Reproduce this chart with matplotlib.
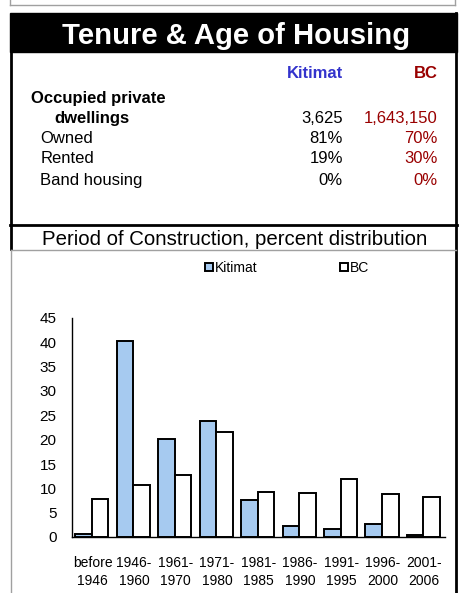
import matplotlib
matplotlib.use("Agg")
from matplotlib import pyplot as plt
from matplotlib.patches import Rectangle
from matplotlib.lines import Line2D

periods = ["before\n1946", "1946-\n1960", "1961-\n1970", "1971-\n1980", "1981-\n1985",
           "1986-\n1990", "1991-\n1995", "1996-\n2000", "2001-\n2006"]
kitimat = [0.6, 40.2, 20.2, 23.9, 7.7, 2.2, 1.6, 2.6, 0.35]
bc = [7.9, 10.7, 12.8, 21.6, 9.2, 9.1, 11.9, 8.9, 8.3]

row_labels = ["Owned", "Rented", "Band housing"]
kitimat_rows = ["81%", "19%", "0%"]
bc_rows = ["70%", "30%", "0%"]
kitimat_total = "3,625"
bc_total = "1,643,150"

W, H = 460, 593
BLUE = "#3333cc"
RED = "#990000"
BARBLUE = "#a6caf0"

plt.rcParams["font.family"] = ["Liberation Sans", "DejaVu Sans"]
fig = plt.figure(figsize=(W / 100, H / 100), dpi=100)


def fx(px):
    return px / W


def fy(py):
    return 1 - py / H


def hline(y, x0, x1, color, lw):
    fig.add_artist(Line2D([fx(x0), fx(x1)], [fy(y), fy(y)], color=color, lw=lw))


def vline(x, y0, y1, color, lw):
    fig.add_artist(Line2D([fx(x), fx(x)], [fy(y0), fy(y1)], color=color, lw=lw))


# frames
vline(10.5, 0, 4.5, "#a0a0a0", 1)
vline(455, 0, 4.5, "#a0a0a0", 1)
hline(4.5, 10, 455, "#a0a0a0", 1)
fig.add_artist(Rectangle((fx(10), fy(52)), fx(457) - fx(10), fy(13) - fy(52),
                         color="black", transform=fig.transFigure))
vline(11, 52, 249, "black", 2)
vline(456.5, 13, 593, "black", 2)
hline(224.5, 10, 457, "black", 2)
hline(249.5, 11, 456, "#a0a0a0", 1)
vline(11, 249.5, 593, "#a0a0a0", 1)

# table
fig.text(fx(236), fy(43.5), "Tenure & Age of Housing", color="white", fontsize=21.1,
         fontweight="bold", ha="center", va="baseline")
fig.text(fx(343), fy(77.5), "Kitimat", color=BLUE, fontsize=12, fontweight="bold",
         ha="right", va="baseline")
fig.text(fx(438), fy(77.5), "BC", color=RED, fontsize=12, fontweight="bold",
         ha="right", va="baseline")
fig.text(fx(31), fy(103.3), "Occupied private", fontsize=12, fontweight="bold", va="baseline")
fig.text(fx(54), fy(122.7), "dwellings", fontsize=12, fontweight="bold", va="baseline")
fig.text(fx(343), fy(122.7), kitimat_total, fontsize=12, ha="right", va="baseline")
fig.text(fx(438), fy(122.7), bc_total, fontsize=12, ha="right", va="baseline", color=RED)
for i, (lab, k, b) in enumerate(zip(row_labels, kitimat_rows, bc_rows)):
    yb = [142.7, 163.3, 185][i]
    fig.text(fx(40.5), fy(yb), lab, fontsize=12, va="baseline")
    fig.text(fx(343), fy(yb), k, fontsize=12, ha="right", va="baseline")
    fig.text(fx(438), fy(yb), b, fontsize=12, ha="right", va="baseline", color=RED)

fig.text(fx(235), fy(245), "Period of Construction, percent distribution", fontsize=14.7,
         ha="center", va="baseline")

# chart
ax = fig.add_axes([fx(72), fy(537), fx(445) - fx(72), fy(318) - fy(537)])
x = list(range(len(periods)))
ax.bar([i - 0.22 for i in x], kitimat, width=0.4, color=BARBLUE, edgecolor="black",
       linewidth=1.4, label="Kitimat")
ax.bar([i + 0.18 for i in x], bc, width=0.4, color="white", edgecolor="black",
       linewidth=1.4, label="BC")
ax.set_xlim(-0.5, len(periods) - 0.5)
ax.set_ylim(0, 45)
ax.set_yticks(range(0, 50, 5))
ax.set_xticks(x)
ax.set_xticklabels(periods, fontsize=10, linespacing=1.35)
ax.tick_params(axis="y", length=0, pad=11, labelsize=11)
ax.tick_params(axis="x", length=0, pad=14)
for s in ["top", "right"]:
    ax.spines[s].set_visible(False)
ax.spines["left"].set_linewidth(1)
ax.spines["bottom"].set_linewidth(1)

fig.legend(loc="center left", bbox_to_anchor=(fx(198), fy(268)), ncol=2, frameon=False,
           fontsize=10, handlelength=0.55, handleheight=0.55, handletextpad=0.2,
           columnspacing=5.9, borderpad=0)

fig.savefig("out.png", dpi=100)
